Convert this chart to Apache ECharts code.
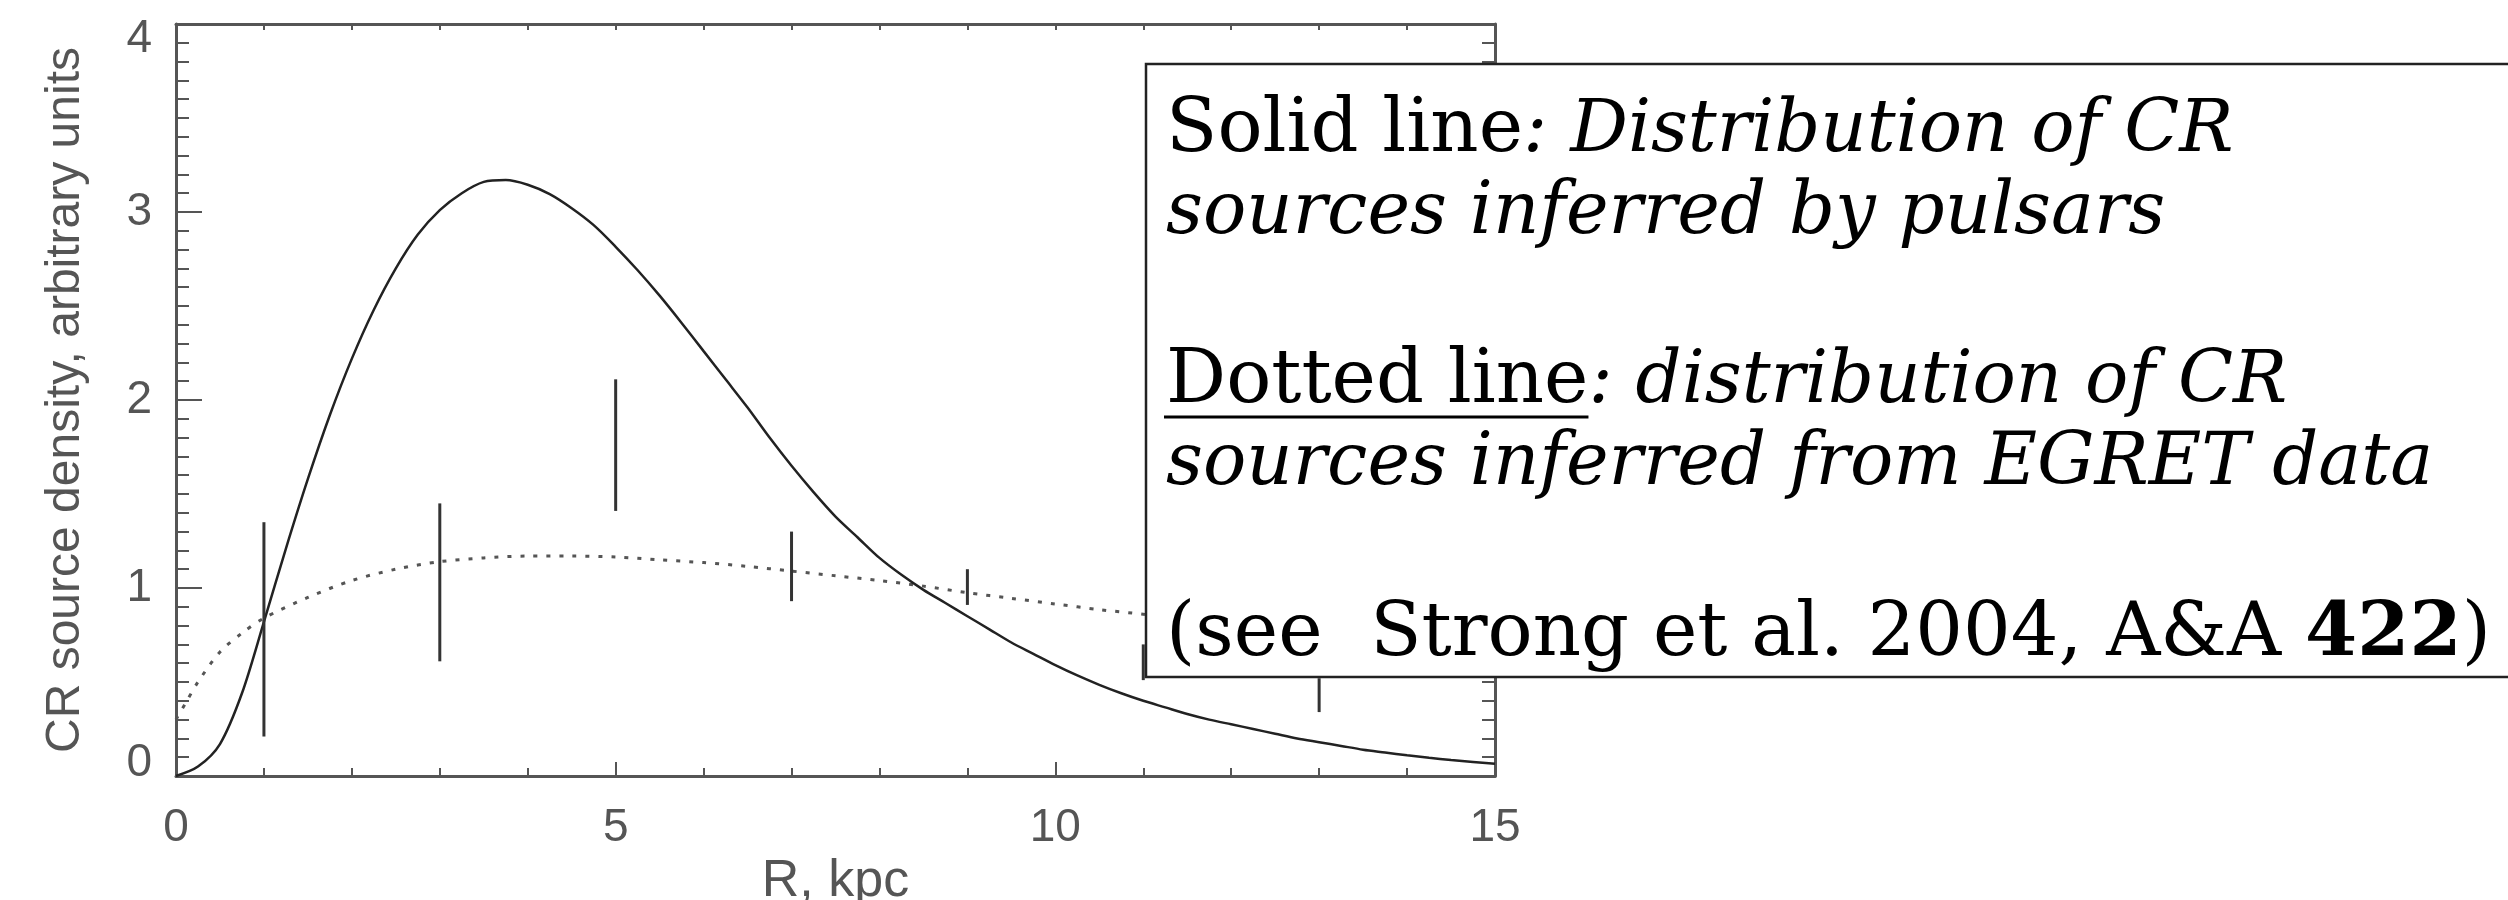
<!DOCTYPE html>
<html>
<head>
<meta charset="utf-8">
<script src="https://cdn.jsdelivr.net/npm/echarts@6/dist/echarts.min.js"></script>
<style>
  html, body { margin: 0; padding: 0; background: #fff; }
  #main { width: 2508px; height: 900px; }
</style>
</head>
<body>
<div id="main"></div>
<script>
// solid line: CR source distribution inferred from pulsars
var radius = [0, 0.25, 0.5, 0.75, 1, 1.25, 1.5, 1.75, 2, 2.25, 2.5, 2.75, 3, 3.25, 3.5, 3.75,
  4, 4.25, 4.5, 4.75, 5, 5.25, 5.5, 5.75, 6, 6.25, 6.5, 6.75, 7, 7.25, 7.5, 7.75,
  8, 8.25, 8.5, 8.75, 9, 9.25, 9.5, 9.75, 10, 10.25, 10.5, 10.75, 11, 11.25, 11.5, 11.75,
  12, 12.25, 12.5, 12.75, 13, 13.25, 13.5, 13.75, 14, 14.25, 14.5, 14.75, 15];
var pulsarDensity = [0, 0.05, 0.17, 0.44, 0.82, 1.21, 1.58, 1.92, 2.22, 2.48, 2.70, 2.88, 3.01, 3.10, 3.16, 3.17,
  3.145, 3.095, 3.02, 2.93, 2.815, 2.69, 2.555, 2.41, 2.26, 2.11, 1.96, 1.80, 1.65, 1.51, 1.38, 1.27,
  1.16, 1.07, 0.99, 0.92, 0.85, 0.78, 0.71, 0.65, 0.59, 0.535, 0.485, 0.44, 0.40, 0.365, 0.33, 0.30,
  0.275, 0.25, 0.225, 0.20, 0.18, 0.16, 0.14, 0.125, 0.11, 0.097, 0.085, 0.075, 0.065];

// dotted line: distribution inferred from EGRET data
var egretRadius = [0, 0.1, 0.25, 0.5, 0.75, 1, 1.5, 2, 2.5, 3, 3.5, 4, 4.5, 5, 5.5, 6, 6.5, 7, 7.5, 8, 8.5, 9, 9.5, 10, 10.5, 11, 11.5];
var egretDensity = [0.30, 0.38, 0.50, 0.66, 0.76, 0.84, 0.95, 1.04, 1.10, 1.14, 1.16, 1.17, 1.17, 1.165, 1.15, 1.135, 1.115, 1.09, 1.065, 1.04, 1.01, 0.975, 0.945, 0.915, 0.885, 0.86, 0.83];

// vertical error bars
var barRadius = [1, 3, 5, 7, 9, 11, 13];
var barLow = [0.21, 0.61, 1.41, 0.93, 0.91, 0.51, 0.34];
var barHigh = [1.35, 1.45, 2.11, 1.30, 1.10, 0.70, 0.52];

var xTickLabels = [0, 5, 10, 15];
var yTickLabels = [0, 1, 2, 3, 4];

var xName = 'R, kpc';
var yName = 'CR source density, arbitrary units';

// note box lines: [text, style] pieces
var noteLines = [
  [['Solid line', 'r'], [': Distribution of CR', 'i']],
  [['sources inferred by pulsars', 'i']],
  [['Dotted line', 'r'], [': distribution of CR', 'i']],
  [['sources inferred from EGRET data', 'i']],
  [['(see  Strong et al. 2004, A&A ', 'r'], ['422', 'b'], [')', 'r']]
];
var noteBaselines = [154, 236, 405, 487, 658];

var axisFont = '"Liberation Sans", Arial, sans-serif';
var noteFont = '"DejaVu Serif", "Liberation Serif", serif';
var axisColor = '#555';

function zip(a, b) {
  return a.map(function (v, i) { return [v, b[i]]; });
}

var myChart = echarts.init(document.getElementById('main'), null, { renderer: 'canvas' });

var tickStyle = { color: axisColor, width: 2 };
var lineAxis = { show: true, onZero: false, lineStyle: { color: axisColor, width: 3 } };

// underline for "Dotted line"
var ctx = document.createElement('canvas').getContext('2d');
ctx.font = '75px ' + noteFont;
var dottedWidth = ctx.measureText('Dotted line').width;

var noteLeft = 1166;
var lineHeight = 80;
var richStyles = {
  r: { fontFamily: noteFont, fontSize: 75, lineHeight: lineHeight, color: '#000' },
  i: { fontFamily: noteFont, fontSize: 72, fontStyle: 'italic', lineHeight: lineHeight, color: '#000' },
  b: { fontFamily: noteFont, fontSize: 75, fontWeight: 'bold', lineHeight: lineHeight, color: '#000' }
};

var graphics = [{
  type: 'rect',
  z: 100,
  shape: { x: 1146, y: 64, width: 1380, height: 613 },
  style: { fill: '#fff', stroke: '#222', lineWidth: 2.5 }
}];
noteLines.forEach(function (parts, i) {
  graphics.push({
    type: 'text',
    z: 101,
    x: noteLeft,
    y: noteBaselines[i] - 62,
    style: {
      text: parts.map(function (p) { return '{' + p[1] + '|' + p[0] + '}'; }).join(''),
      rich: richStyles,
      verticalAlign: 'top',
      align: 'left'
    }
  });
});
graphics.push({
  type: 'line',
  z: 101,
  shape: { x1: noteLeft - 2, y1: noteBaselines[2] + 12, x2: noteLeft + dottedWidth, y2: noteBaselines[2] + 12 },
  style: { stroke: '#000', lineWidth: 3 }
});

// y labels at the ends sit a little inside the frame
var yMin = yTickLabels[0];
var yMax = yTickLabels[yTickLabels.length - 1];
var yLabelText = { fontSize: 46, color: axisColor, fontFamily: axisFont };

var option = {
  animation: false,
  backgroundColor: '#fff',
  grid: { left: 176, right: 1013, top: 24, bottom: 124, containLabel: false, outerBoundsMode: 'none' },
  xAxis: [{
    type: 'value',
    position: 'bottom',
    min: xTickLabels[0],
    max: xTickLabels[xTickLabels.length - 1],
    interval: xTickLabels[1] - xTickLabels[0],
    axisLine: lineAxis,
    axisTick: { inside: true, length: 14, lineStyle: tickStyle },
    minorTick: { show: true, splitNumber: 5, length: 8, lineStyle: tickStyle },
    splitLine: { show: false },
    axisLabel: { margin: 29, fontSize: 46, color: axisColor, fontFamily: axisFont },
    name: xName,
    nameLocation: 'middle',
    nameGap: 78,
    nameTextStyle: { fontSize: 52, color: axisColor, fontFamily: axisFont }
  }, {
    type: 'value',
    position: 'top',
    min: xTickLabels[0],
    max: xTickLabels[xTickLabels.length - 1],
    interval: 1,
    axisLine: lineAxis,
    axisTick: { inside: true, length: 6, lineStyle: tickStyle },
    splitLine: { show: false },
    axisLabel: { show: false }
  }],
  yAxis: [{
    type: 'value',
    position: 'left',
    min: yMin,
    max: yMax,
    interval: yTickLabels[1] - yTickLabels[0],
    axisLine: lineAxis,
    axisTick: { inside: true, length: 26, lineStyle: tickStyle },
    minorTick: { show: true, splitNumber: 10, length: 13, lineStyle: tickStyle },
    splitLine: { show: false },
    axisLabel: {
      margin: 24, fontSize: 46, color: axisColor, fontFamily: axisFont,
      formatter: function (v) {
        if (v === yMin) return '{lo|' + v + '}';
        if (v === yMax) return '{hi|' + v + '}';
        return String(v);
      },
      rich: {
        lo: Object.assign({ padding: [0, 0, 26, 0] }, yLabelText),
        hi: Object.assign({ padding: [30, 0, 0, 0] }, yLabelText)
      }
    },
    name: yName,
    nameLocation: 'middle',
    nameRotate: 90,
    nameGap: 86,
    nameTextStyle: { fontSize: 48, color: axisColor, fontFamily: axisFont }
  }, {
    type: 'value',
    position: 'right',
    min: yMin,
    max: yMax,
    interval: yTickLabels[1] - yTickLabels[0],
    axisLine: lineAxis,
    axisTick: { inside: true, length: 26, lineStyle: tickStyle },
    minorTick: { show: true, splitNumber: 10, length: 13, lineStyle: tickStyle },
    splitLine: { show: false },
    axisLabel: { show: false }
  }],
  series: [{
    name: 'pulsars',
    type: 'line',
    data: zip(radius, pulsarDensity),
    showSymbol: false,
    smooth: 0.3,
    lineStyle: { color: '#222', width: 2.5 },
    z: 3
  }, {
    name: 'EGRET',
    type: 'line',
    data: zip(egretRadius, egretDensity),
    showSymbol: false,
    smooth: 0.3,
    lineStyle: { color: '#555', width: 3, type: [4, 9] },
    z: 2
  }, {
    name: 'bars',
    type: 'custom',
    data: barRadius.map(function (r, i) { return [r, barLow[i], barHigh[i]]; }),
    renderItem: function (params, api) {
      var lo = api.coord([api.value(0), api.value(1)]);
      var hi = api.coord([api.value(0), api.value(2)]);
      return {
        type: 'line',
        shape: { x1: lo[0], y1: lo[1], x2: hi[0], y2: hi[1] },
        style: { stroke: '#333', lineWidth: 3 }
      };
    },
    z: 4
  }],
  graphic: graphics
};
myChart.setOption(option);
</script>
</body>
</html>
